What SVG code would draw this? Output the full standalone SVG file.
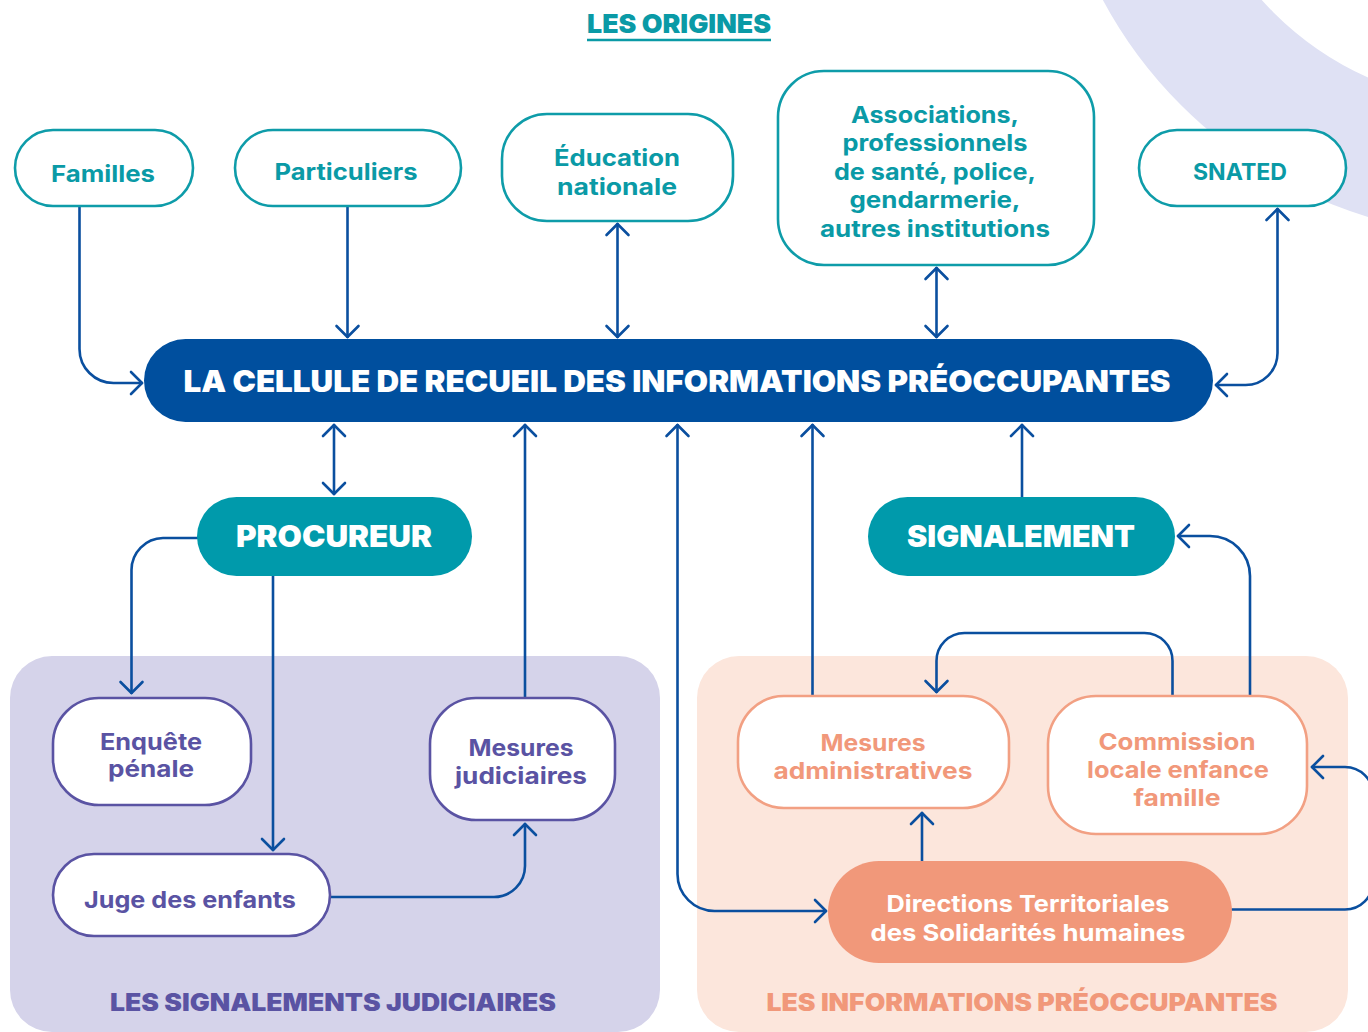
<svg xmlns="http://www.w3.org/2000/svg" width="1368" height="1032" viewBox="0 0 1368 1032">
<defs>
<style>
.ff{font-family:Inter,"Noto Sans","Liberation Sans",sans-serif}
.top rect{fill:#fff;stroke:#0e9ca9;stroke-width:2.6}
.top text{fill:#0a9aa6;font-size:23px;font-weight:700;text-anchor:middle}
.jud rect{fill:#fff;stroke:#5a53a3;stroke-width:2.6}
.jud text{fill:#5a53a3;font-size:23px;font-weight:700;text-anchor:middle}
.adm rect{fill:#fff;stroke:#f2a083;stroke-width:2.6}
.adm text{fill:#f1987a;font-size:23px;font-weight:700;text-anchor:middle}
.big text{fill:#fff;font-weight:900;text-anchor:middle}
.conn path{fill:none;stroke:#0a4f9f;stroke-width:2.6;stroke-linecap:round;stroke-linejoin:round}
.lbl{font-weight:900;font-size:24px;text-anchor:middle}
</style>
<marker id="ah" markerUnits="userSpaceOnUse" markerWidth="30" markerHeight="30" viewBox="-15 -15 30 30" refX="0" refY="0" orient="auto-start-reverse" overflow="visible">
<path d="M-11,-11 L0,0 L-11,11" fill="none" stroke="#0a4f9f" stroke-width="2.6" stroke-linecap="round" stroke-linejoin="round"/>
</marker>
</defs>
<rect width="1368" height="1032" fill="#fff"/>
<circle cx="1497" cy="-211" r="381.5" fill="none" stroke="#dfe1f4" stroke-width="131"/>

<g id="panel-judiciaire">
<rect x="10" y="656" width="650" height="376" rx="42" fill="#d5d3ea"/>
<text class="ff lbl" x="333" y="1011" fill="#5a53a3" textLength="446" lengthAdjust="spacingAndGlyphs">LES SIGNALEMENTS JUDICIAIRES</text>
</g>
<g id="panel-ip">
<rect x="697" y="656" width="651" height="376" rx="42" fill="#fce6dc"/>
<text class="ff lbl" x="1022" y="1011" fill="#f1987a" textLength="511" lengthAdjust="spacingAndGlyphs">LES INFORMATIONS PRÉOCCUPANTES</text>
</g>

<g id="title">
<text class="ff" x="679" y="33" fill="#0a9aa6" font-size="26" font-weight="900" text-anchor="middle" textLength="184" lengthAdjust="spacingAndGlyphs">LES ORIGINES</text>
<line x1="587" y1="40" x2="771" y2="40" stroke="#0a9aa6" stroke-width="2.6"/>
</g>

<g class="conn">
<path d="M79.5,206 V349 A34,34 0 0 0 113.5,383 H142" marker-end="url(#ah)"/>
<path d="M347.5,206 V337" marker-end="url(#ah)"/>
<path d="M617.5,224 V337" marker-start="url(#ah)" marker-end="url(#ah)"/>
<path d="M936.5,268 V337" marker-start="url(#ah)" marker-end="url(#ah)"/>
<path d="M1216,385 H1245 A32,32 0 0 0 1277.5,353 V209" marker-start="url(#ah)" marker-end="url(#ah)"/>
<path d="M334,425 V494" marker-start="url(#ah)" marker-end="url(#ah)"/>
<path d="M197,538 H163 A32,32 0 0 0 131.5,570 V693" marker-end="url(#ah)"/>
<path d="M273,576 V850" marker-end="url(#ah)"/>
<path d="M330,897 H494 A31,31 0 0 0 525,866 V824" marker-end="url(#ah)"/>
<path d="M525,697 V425" marker-end="url(#ah)"/>
<path d="M677.5,425 V874 A37,37 0 0 0 714.5,911 H826" marker-start="url(#ah)" marker-end="url(#ah)"/>
<path d="M812.5,696 V425" marker-end="url(#ah)"/>
<path d="M1022,497 V425" marker-end="url(#ah)"/>
<path d="M1250,696 V576 A40,40 0 0 0 1210,536 H1178" marker-end="url(#ah)"/>
<path d="M1172.5,696 V661 A28,28 0 0 0 1144.5,633 H964.5 A28,28 0 0 0 936.5,661 V692" marker-end="url(#ah)"/>
<path d="M922,861 V813" marker-end="url(#ah)"/>
<path d="M1232,909.5 H1345 A28,28 0 0 0 1373,881.5 V795 A28,28 0 0 0 1345,767 H1312" marker-end="url(#ah)"/>
</g>

<g id="cellule" class="big">
<rect x="144" y="339" width="1069" height="83" rx="41.5" fill="#004f9e"/>
<text class="ff" x="677" y="392" font-size="30" textLength="987" lengthAdjust="spacingAndGlyphs">LA CELLULE DE RECUEIL DES INFORMATIONS PRÉOCCUPANTES</text>
</g>

<g id="familles" class="top ff">
<rect x="15" y="130" width="178" height="76" rx="38"/>
<text x="103" y="182" textLength="104" lengthAdjust="spacingAndGlyphs">Familles</text>
</g>
<g id="particuliers" class="top ff">
<rect x="235" y="130" width="226" height="76" rx="38"/>
<text x="346" y="180" textLength="143" lengthAdjust="spacingAndGlyphs">Particuliers</text>
</g>
<g id="education" class="top ff">
<rect x="502" y="114" width="231" height="107" rx="45"/>
<text x="617" y="166" textLength="126" lengthAdjust="spacingAndGlyphs">Éducation</text>
<text x="617" y="195" textLength="120" lengthAdjust="spacingAndGlyphs">nationale</text>
</g>
<g id="associations" class="top ff">
<rect x="778" y="71" width="316" height="194" rx="46"/>
<text x="935" y="123" textLength="168" lengthAdjust="spacingAndGlyphs">Associations,</text>
<text x="935" y="151" textLength="185" lengthAdjust="spacingAndGlyphs">professionnels</text>
<text x="935" y="180" textLength="202" lengthAdjust="spacingAndGlyphs">de santé, police,</text>
<text x="935" y="208" textLength="171" lengthAdjust="spacingAndGlyphs">gendarmerie,</text>
<text x="935" y="237" textLength="230" lengthAdjust="spacingAndGlyphs">autres institutions</text>
</g>
<g id="snated" class="top ff">
<rect x="1139" y="130" width="207" height="76" rx="38"/>
<text x="1240" y="180" textLength="94" lengthAdjust="spacingAndGlyphs">SNATED</text>
</g>

<g id="procureur" class="big">
<rect x="197" y="497" width="275" height="79" rx="39.5" fill="#009aab"/>
<text class="ff" x="334" y="547" font-size="30" textLength="196" lengthAdjust="spacingAndGlyphs">PROCUREUR</text>
</g>
<g id="signalement" class="big">
<rect x="868" y="497" width="307" height="79" rx="39.5" fill="#009aab"/>
<text class="ff" x="1021" y="547" font-size="30" textLength="228" lengthAdjust="spacingAndGlyphs">SIGNALEMENT</text>
</g>

<g id="enquete" class="jud ff">
<rect x="53" y="698" width="198" height="107" rx="46"/>
<text x="151" y="750" textLength="102" lengthAdjust="spacingAndGlyphs">Enquête</text>
<text x="151" y="777" textLength="86" lengthAdjust="spacingAndGlyphs">pénale</text>
</g>
<g id="mesures-judiciaires" class="jud ff">
<rect x="430" y="698" width="185" height="122" rx="46"/>
<text x="521" y="756" textLength="105" lengthAdjust="spacingAndGlyphs">Mesures</text>
<text x="521" y="784" textLength="132" lengthAdjust="spacingAndGlyphs">judiciaires</text>
</g>
<g id="juge" class="jud ff">
<rect x="53" y="854" width="277" height="82" rx="41"/>
<text x="190" y="908" textLength="212" lengthAdjust="spacingAndGlyphs">Juge des enfants</text>
</g>

<g id="mesures-admin" class="adm ff">
<rect x="738" y="696" width="271" height="112" rx="46"/>
<text x="873" y="751" textLength="105" lengthAdjust="spacingAndGlyphs">Mesures</text>
<text x="873" y="779" textLength="199" lengthAdjust="spacingAndGlyphs">administratives</text>
</g>
<g id="commission" class="adm ff">
<rect x="1048" y="696" width="259" height="138" rx="48"/>
<text x="1177" y="750" textLength="157" lengthAdjust="spacingAndGlyphs">Commission</text>
<text x="1178" y="778" textLength="182" lengthAdjust="spacingAndGlyphs">locale enfance</text>
<text x="1177" y="806" textLength="87" lengthAdjust="spacingAndGlyphs">famille</text>
</g>
<g id="directions">
<rect x="828" y="861" width="404" height="102" rx="51" fill="#f1987a"/>
<text class="ff" x="1028" y="912" fill="#fff" font-size="23" font-weight="700" text-anchor="middle" textLength="283" lengthAdjust="spacingAndGlyphs">Directions Territoriales</text>
<text class="ff" x="1028" y="941" fill="#fff" font-size="23" font-weight="700" text-anchor="middle" textLength="315" lengthAdjust="spacingAndGlyphs">des Solidarités humaines</text>
</g>
</svg>
